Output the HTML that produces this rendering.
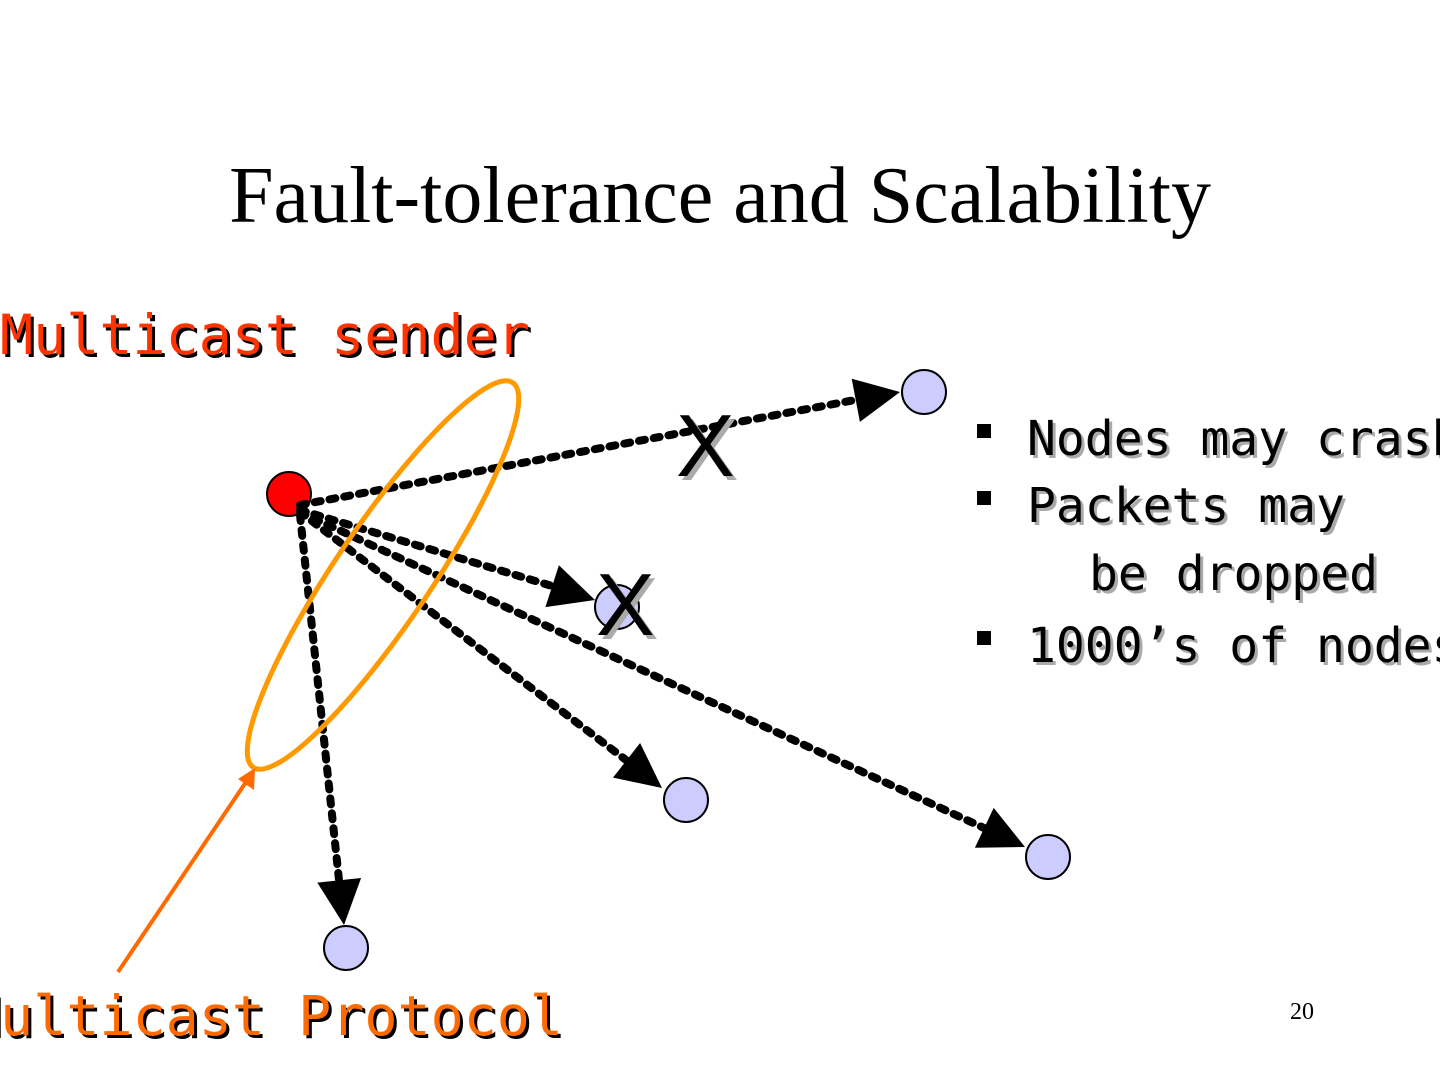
<!DOCTYPE html>
<html><head><meta charset="utf-8"><style>
html,body{margin:0;padding:0;background:#fff;}
body{width:1440px;height:1080px;overflow:hidden;position:relative;}
</style></head><body>
<svg width="1440" height="1080" viewBox="0 0 1440 1080" xmlns="http://www.w3.org/2000/svg" style="position:absolute;left:0;top:0">
<text x="720" y="222" text-anchor="middle" font-family="Liberation Serif, serif" font-size="80" fill="#000">Fault-tolerance and Scalability</text>

<g font-family="DejaVu Sans Mono, monospace" font-size="55">
<text x="3" y="357" fill="#000">Multicast sender</text>
<text x="0" y="354" fill="#ff3300">Multicast sender</text>
<text x="-30" y="1038" fill="#000">Multicast Protocol</text>
<text x="-33" y="1035" fill="#ff6a00">Multicast Protocol</text>
</g>

<g font-family="DejaVu Sans Mono, monospace" font-size="48">
<g fill="#aaa" transform="translate(3,3)">
<text x="1027" y="455">Nodes may crash</text>
<text x="1027" y="522">Packets may</text>
<text x="1089" y="590">be dropped</text>
<text x="1027" y="662">1000’s of nodes</text>
</g>
<g fill="#000">
<text x="1027" y="455">Nodes may crash</text>
<text x="1027" y="522">Packets may</text>
<text x="1089" y="590">be dropped</text>
<text x="1027" y="662">1000’s of nodes</text>
</g>
</g>
<g fill="#000">
<rect x="977" y="424" width="14" height="14"/>
<rect x="977" y="491" width="14" height="14"/>
<rect x="977" y="631" width="14" height="14"/>
</g>

<!-- nodes -->
<g fill="#ccccff" stroke="#000" stroke-width="2">
<circle cx="924" cy="392" r="22"/>
<circle cx="617" cy="607" r="22"/>
<circle cx="686" cy="800" r="22"/>
<circle cx="1048" cy="857" r="22"/>
<circle cx="346" cy="948" r="22"/>
</g>
<circle cx="289" cy="494" r="22" fill="#ff0000" stroke="#000" stroke-width="2"/>

<!-- dashed lines -->
<g stroke="#000" stroke-width="8" stroke-linecap="round" stroke-dasharray="6 9" fill="none">
<line x1="300" y1="505" x2="855" y2="400"/>
<line x1="300" y1="510" x2="552" y2="586"/>
<line x1="300" y1="512" x2="626" y2="760"/>
<line x1="300" y1="512" x2="984" y2="828"/>
<line x1="300" y1="515" x2="339" y2="880"/>
</g>
<g fill="#000">
<polygon points="900,392 859.9,421.9 851.7,378.7"/>
<polygon points="595,600 545.4,607.1 558.9,565.3"/>
<polygon points="662,788 613,777.6 640.1,743"/>
<polygon points="1025,847 974.9,847.7 993.7,807.9"/>
<polygon points="344,925 317.3,882.6 361.1,878"/>
</g>

<!-- orange ellipse -->
<ellipse cx="383" cy="575" rx="232" ry="48" transform="rotate(-56 383 575)" fill="none" stroke="#ff9900" stroke-width="5"/>
<!-- orange arrow -->
<line x1="118" y1="972" x2="246" y2="782" stroke="#ff6a00" stroke-width="4"/>
<polygon points="255,768 254,790 238,779" fill="#ff6a00"/>

<!-- X marks -->
<g font-family="Liberation Sans, sans-serif" font-size="88">
<text x="680" y="480" fill="#aaa">X</text>
<text x="676" y="476" fill="#000">X</text>
<text x="600" y="639" fill="#aaa">X</text>
<text x="596" y="635" fill="#000">X</text>
</g>

<text x="1302" y="1019" text-anchor="middle" font-family="Liberation Serif, serif" font-size="24" fill="#000">20</text>
</svg>
</body></html>
